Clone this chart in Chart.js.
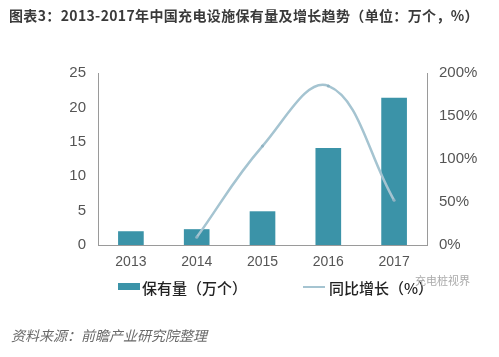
<!DOCTYPE html>
<html><head><meta charset="utf-8">
<script src="https://cdn.jsdelivr.net/npm/chart.js@4/dist/chart.umd.min.js"></script>
<style>
html,body{margin:0;padding:0;background:#fff;width:499px;height:357px;overflow:hidden;font-family:"Noto Sans CJK SC","Liberation Sans",sans-serif;}
#wrap{position:absolute;left:0;top:0;width:499px;height:357px;}
#title{position:absolute;left:9px;top:5px;font-size:14px;font-weight:bold;color:#3a3a3a;white-space:nowrap;letter-spacing:0.35px;}
.leg{position:absolute;top:277px;font-size:15px;font-weight:500;color:#222;white-space:nowrap;}
.sw{position:absolute;}
#src{position:absolute;left:11px;top:325px;font-size:14px;font-style:italic;color:#6a6a6a;white-space:nowrap;}
#wm{position:absolute;left:415px;top:272px;font-size:11px;color:#aaa;white-space:nowrap;}
</style></head>
<body>
<div id="wrap"><canvas id="c" width="499" height="357"></canvas></div>
<div id="title">图表3：2013-2017年中国充电设施保有量及增长趋势（单位：万个，%）</div>
<div class="sw" style="left:118px;top:283px;width:22px;height:7px;background:#3b93a8;"></div>
<div class="leg" style="left:142px;">保有量（万个）</div>
<div class="sw" style="left:303px;top:286px;width:22px;height:2px;background:#a5c4d1;"></div>
<div class="leg" style="left:329px;">同比增长（%）</div>
<div id="wm">充电桩视界</div>
<div id="src">资料来源：前瞻产业研究院整理</div>
<script>
const categories = ["2013","2014","2015","2016","2017"];
const holdings = [2.0, 2.3, 4.9, 14.1, 21.4];
const growth = [null, 9, 115, 185, 52];
const leftTicks = [0,5,10,15,20,25];
const rightTicks = [0,50,100,150,200];

new Chart(document.getElementById('c'), {
  data: {
    labels: categories,
    datasets: [
      {type:'line', label:'同比增长（%）', data: growth, yAxisID:'y2',
       borderColor:'#a5c4d1', backgroundColor:'#8fb3c3', borderWidth:2.5,
       pointRadius:1.5, pointBorderWidth:0, tension:0.4, spanGaps:false, order:0},
      {type:'bar', label:'保有量（万个）', data: holdings, yAxisID:'y',
       backgroundColor:'#3b93a8', barPercentage:0.39, categoryPercentage:1, order:1}
    ]
  },
  options: {
    responsive:false, animation:false,
    layout:{padding:{left:0,right:0,top:73,bottom:82}},
    plugins:{legend:{display:false}, tooltip:{enabled:false}},
    scales:{
      x:{grid:{display:false,drawTicks:false}, border:{color:'#9a9a9a'},
         ticks:{color:'#555',font:{family:'Liberation Sans',size:14},padding:9},
         afterFit(s){s.height=30;}},
      y:{position:'left', min:0, max:25, grid:{display:false,drawTicks:false},
         border:{color:'#9a9a9a'},
         afterBuildTicks(s){s.ticks=leftTicks.map(v=>({value:v}));},
         ticks:{color:'#555',font:{family:'Liberation Sans',size:15},padding:12},
         afterFit(s){s.width=98;}},
      y2:{position:'right', min:0, max:200, grid:{display:false,drawTicks:false},
         border:{color:'#9a9a9a'},
         afterBuildTicks(s){s.ticks=rightTicks.map(v=>({value:v}));},
         ticks:{color:'#555',font:{family:'Liberation Sans',size:15},padding:12,callback:v=>v+'%'},
         afterFit(s){s.width=72;}}
    }
  }
});
</script>
</body></html>
